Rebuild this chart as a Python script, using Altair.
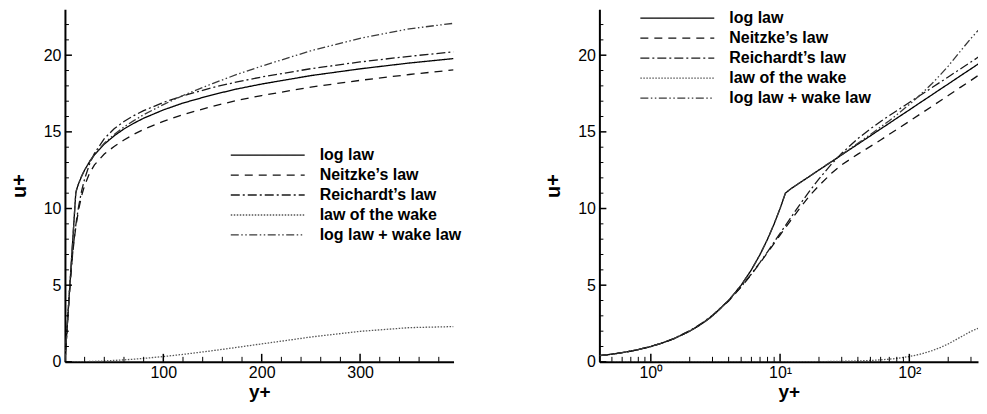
import altair as alt
import pandas as pd

FONT = "Liberation Sans"

# ---- data ----
yplus = [0, 0.4, 0.5, 0.6, 0.7, 0.8, 1, 1.2, 1.5, 2, 2.5, 3, 4, 5, 6, 7, 8, 9, 10, 11,
         12, 14, 17, 20, 25, 30, 40, 50, 60, 70, 80, 100, 120, 150, 175, 200, 250, 300, 350, 395]

log_law = [0, 0.4, 0.5, 0.6, 0.7, 0.8, 1, 1.2, 1.5, 2, 2.5, 3, 4, 5, 6, 7, 8, 9, 10, 11,
           11.26, 11.64, 12.11, 12.51, 13.05, 13.50, 14.20, 14.74, 15.19, 15.56, 15.89, 16.43,
           16.88, 17.42, 17.80, 18.12, 18.67, 19.11, 19.49, 19.78]

neitzke = [0, 0.40, 0.50, 0.60, 0.70, 0.80, 1.0, 1.2, 1.5, 2.0, 2.5, 3.0, 3.97, 4.88, 5.70, 6.45,
           7.12, 7.72, 8.27, 8.75,
           9.18, 9.95, 10.85, 11.5, 12.3, 12.85, 13.55, 14.05, 14.47, 14.84, 15.16, 15.69,
           16.13, 16.67, 17.05, 17.37, 17.92, 18.36, 18.74, 19.04]

reichardt = [0, 0.40, 0.50, 0.60, 0.70, 0.80, 1.01, 1.21, 1.52, 2.03, 2.54, 3.04, 4.00, 4.90,
             5.73, 6.49, 7.18, 7.81, 8.38, 8.89,
             9.36, 10.18, 11.16, 11.93, 12.90, 13.60, 14.56, 15.20, 15.68, 16.06, 16.38, 16.92,
             17.35, 17.89, 18.26, 18.58, 19.12, 19.56, 19.93, 20.22]

wake = [0, 0, 0, 0, 0, 0, 0, 0, 0, 0, 0, 0, 0, 0, 0, 0, 0, 0, 0,
        0.004, 0.005, 0.007, 0.011, 0.015, 0.023, 0.033, 0.058, 0.09, 0.128, 0.174, 0.225,
        0.345, 0.485, 0.726, 0.946, 1.17, 1.62, 1.99, 2.23, 2.30]

log_wake = [0, 0.4, 0.5, 0.6, 0.7, 0.8, 1, 1.2, 1.5, 2, 2.5, 3, 4, 5, 6, 7, 8, 9, 10, 11,
            11.27, 11.65, 12.12, 12.53, 13.07, 13.53, 14.26, 14.83, 15.32, 15.73, 16.12, 16.78,
            17.37, 18.15, 18.75, 19.29, 20.29, 21.10, 21.72, 22.08]

law_names = ["log law", "Neitzke’s law", "Reichardt’s law", "law of the wake", "log law + wake law"]
law_values = [log_law, neitzke, reichardt, wake, log_wake]
law_colors = ["#000000", "#111111", "#1a1a1a", "#555555", "#3a3a3a"]
law_dashes = [[1, 0], [8, 6], [9, 3, 2, 3], [1.5, 1.5], [8, 2.5, 1.5, 2.5, 1.5, 2.5]]

y_major = [0, 5, 10, 15, 20]
y_minor = [1, 2, 3, 4, 6, 7, 8, 9, 11, 12, 13, 14, 16, 17, 18, 19, 21, 22]
xlin_major = [100, 200, 300]
xlin_minor = [20, 40, 60, 80, 120, 140, 160, 180, 220, 240, 260, 280, 320, 340, 360, 380]
xlog_major = [1, 10, 100]
xlog_minor = [0.5, 0.6, 0.7, 0.8, 0.9, 2, 3, 4, 5, 6, 7, 8, 9,
              20, 30, 40, 50, 60, 70, 80, 90, 200, 300]

rows = []
for name, vals in zip(law_names, law_values):
    for yp, up in zip(yplus, vals):
        rows.append({"yplus": yp, "uplus": up, "law": name})
df = pd.DataFrame(rows)

H = 353
Y_SCALE = alt.Scale(domain=[0, 23], nice=False, zero=False)

Y_AXIS = alt.Axis(values=y_major, ticks=False, tickSize=0, labelPadding=4,
                  labelFontSize=16, labelFont=FONT, labelColor="black",
                  title="u+", titleFontSize=20, titleFontWeight="bold", titleFont=FONT,
                  titleColor="black", titlePadding=14, domainColor="black", domainWidth=2,
                  grid=False)


def legend(lx, ly):
    return alt.Legend(orient="none", legendX=lx, legendY=ly, symbolType="stroke",
                      symbolSize=5476, symbolStrokeWidth=1.3, clipHeight=12, rowPadding=4,
                      labelOffset=14, labelFontSize=16, labelFontWeight="bold", labelFont=FONT,
                      labelColor="black", title=None, padding=0)


def panel(xscale, xaxis, lx, ly, xmaj, xmin, width, log=False):
    base = alt.Chart(df)
    if log:
        base = base.transform_filter("datum.yplus > 0")
    lg = legend(lx, ly)
    lines = base.mark_line(strokeWidth=1.3, clip=True).encode(
        x=alt.X("yplus:Q", scale=xscale, axis=xaxis),
        y=alt.Y("uplus:Q", scale=Y_SCALE, axis=Y_AXIS),
        color=alt.Color("law:N", scale=alt.Scale(domain=law_names, range=law_colors), legend=lg),
        strokeDash=alt.StrokeDash("law:N", scale=alt.Scale(domain=law_names, range=law_dashes),
                                  legend=lg),
    )
    ymaj = alt.Chart(pd.DataFrame({"v": y_major})).mark_rule(color="black", strokeWidth=1.5).encode(
        y=alt.Y("v:Q", scale=Y_SCALE, axis=Y_AXIS), x=alt.value(0), x2=alt.value(7))
    ymin = alt.Chart(pd.DataFrame({"v": y_minor})).mark_rule(color="black", strokeWidth=1).encode(
        y=alt.Y("v:Q", scale=Y_SCALE, axis=Y_AXIS), x=alt.value(0), x2=alt.value(4))
    xmj = alt.Chart(pd.DataFrame({"v": xmaj})).mark_rule(color="black", strokeWidth=1.5).encode(
        x=alt.X("v:Q", scale=xscale, axis=xaxis), y=alt.value(H), y2=alt.value(H - 8))
    xmn = alt.Chart(pd.DataFrame({"v": xmin})).mark_rule(color="black", strokeWidth=1).encode(
        x=alt.X("v:Q", scale=xscale, axis=xaxis), y=alt.value(H), y2=alt.value(H - 5))
    return alt.layer(lines, ymaj, ymin, xmj, xmn).properties(width=width, height=H)


xlin_scale = alt.Scale(domain=[0, 395], nice=False, zero=False)
xlin_axis = alt.Axis(values=xlin_major, ticks=False, tickSize=0, labelPadding=3,
                     labelFontSize=16, labelFont=FONT, labelColor="black",
                     title="y+", titleFontSize=19, titleFontWeight="bold", titleFont=FONT,
                     titleColor="black", titlePadding=2, domainColor="black", domainWidth=2,
                     grid=False)

xlog_scale = alt.Scale(type="log", domain=[0.4, 340], nice=False)
xlog_axis = alt.Axis(values=xlog_major, ticks=False, tickSize=0, labelPadding=3,
                     labelExpr="datum.value == 1 ? '10⁰' : (datum.value == 10 ? '10¹' : '10²')",
                     labelFontSize=16, labelFont=FONT, labelColor="black",
                     title="y+", titleFontSize=19, titleFontWeight="bold", titleFont=FONT,
                     titleColor="black", titlePadding=2, domainColor="black", domainWidth=2,
                     grid=False)

left = panel(xlin_scale, xlin_axis, 165, 140, xlin_major, xlin_minor, 389)
right = panel(xlog_scale, xlog_axis, 40, 3, xlog_major, xlog_minor, 379, log=True)

chart = alt.hconcat(left, right, spacing=80).resolve_scale(
    color="independent", strokeDash="independent"
).resolve_legend(
    color="independent", strokeDash="independent"
).properties(
    padding={"left": 0, "top": 0, "right": 0, "bottom": 0}
).configure(background="white").configure_view(stroke="transparent")

chart.save("out.html", embed_options={"renderer": "svg", "actions": False})
